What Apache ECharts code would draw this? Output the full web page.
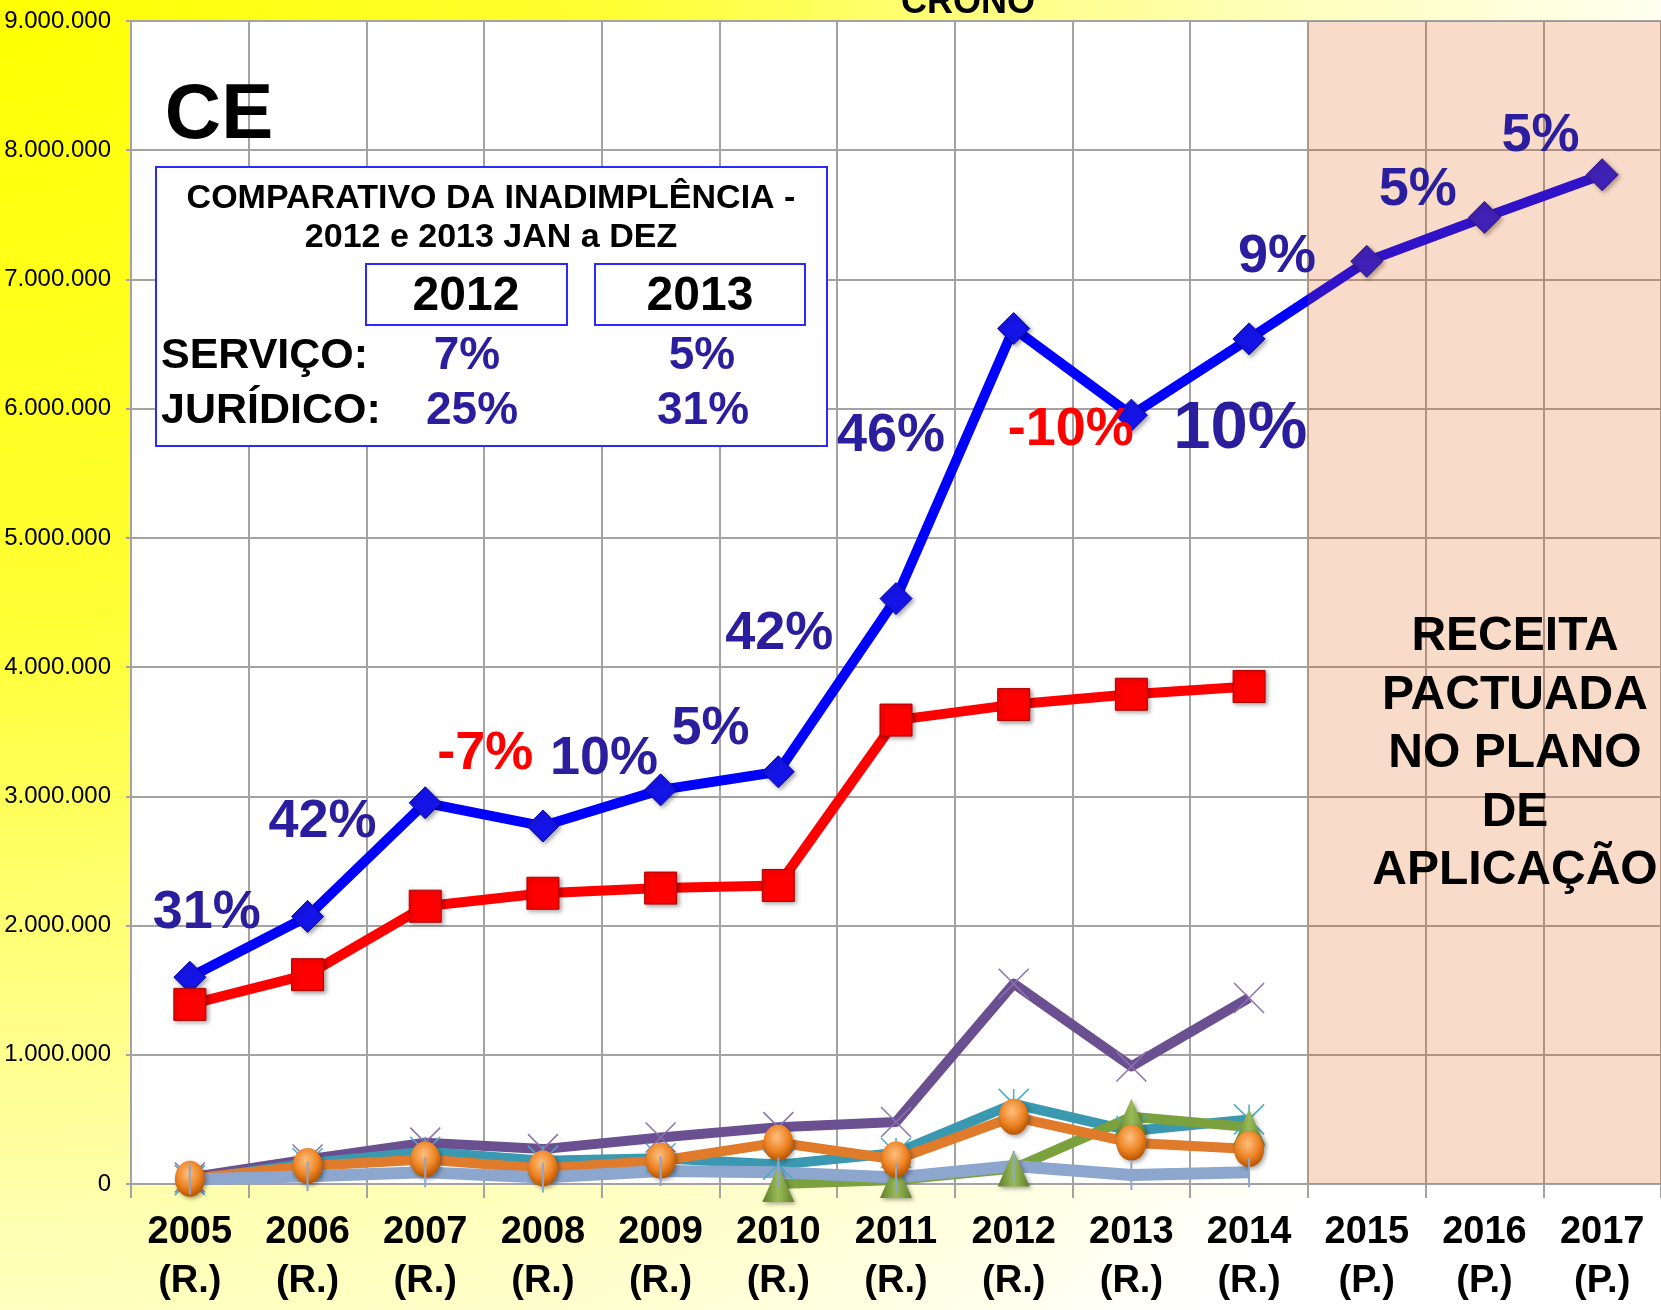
<!DOCTYPE html>
<html>
<head>
<meta charset="utf-8">
<title>CE - Receita</title>
<script src="https://cdn.jsdelivr.net/npm/echarts@6/dist/echarts.min.js"></script>
<style>
    html, body { margin: 0; padding: 0; }
    #chart { width: 1661px; height: 1310px; }
</style>
</head>
<body>
<div id="chart"></div>
<script>
// categorias (ano + R. realizado / P. pactuado)
const years = ['2005', '2006', '2007', '2008', '2009', '2010', '2011', '2012', '2013', '2014', '2015', '2016', '2017'];
const phases = ['R.', 'R.', 'R.', 'R.', 'R.', 'R.', 'R.', 'R.', 'R.', 'R.', 'P.', 'P.', 'P.'];

// séries
const serieAzul = [1600000, 2070000, 2950000, 2770000, 3050000, 3190000, 4530000, 6620000, 5950000, 6540000, 7140000, 7480000, 7810000];
const serieVermelha = [1390000, 1620000, 2150000, 2250000, 2290000, 2310000, 3590000, 3710000, 3790000, 3850000, null, null, null];
const serieRoxa = [50000, 190000, 320000, 270000, 360000, 440000, 480000, 1550000, 910000, 1440000, null, null, null];
const serieTurquesa = [30000, 160000, 250000, 180000, 200000, 150000, 240000, 620000, 410000, 500000, null, null, null];
const serieLaranja = [40000, 140000, 190000, 120000, 180000, 320000, 190000, 520000, 320000, 270000, null, null, null];
const serieVerde = [null, null, null, null, null, 0, 30000, 120000, 520000, 440000, null, null, null];
const serieAzulClara = [35000, 60000, 90000, 50000, 100000, 90000, 50000, 140000, 70000, 90000, null, null, null];

// rótulos de crescimento (ancorados no ponto azul de mesmo índice)
const growthLabels = ['31%', '42%', '-7%', '10%', '5%', '42%', '46%', '-10%', '10%', '9%', '5%', '5%', ''];

// tabela do quadro
const tableYears = ['2012', '2013'];
const servicoPct = ['7%', '5%'];
const juridicoPct = ['25%', '31%'];

const yTicks = { min: 0, max: 9000000, interval: 1000000 };

// posição dos rótulos (px) em relação ao ponto
const labelLayout = [
    [17, -64, 54], [15, -94, 54], [60, -49, 54], [61, -67, 54], [50, -61, 54],
    [1, -138, 54], [-5, -163, 54], [57, 102, 54], [109, 14, 67], [28, -82, 54],
    [51, -71, 54], [56, -81, 54], [0, 0, 54]
];

const FONT = '"Liberation Sans", Arial, Helvetica, sans-serif';
const DARK_BLUE = '#2B1E9E';
const GRID_GRAY = '#A3A3A3';

const chart = echarts.init(document.getElementById('chart'));

const categories = years.map((y, i) => y + '\n(' + phases[i] + ')');

function fmtThousands(v) {
    return String(v).replace(/\B(?=(\d{3})+(?!\d))/g, '.');
}

const markerShadow = {
    shadowBlur: 4,
    shadowOffsetX: 2,
    shadowOffsetY: 2,
    shadowColor: 'rgba(0,0,0,0.35)'
};

function lineSeries(name, data, color, width, symbol, symbolSize, itemStyle) {
    return {
        name: name,
        type: 'line',
        data: data,
        symbol: symbol,
        symbolSize: symbolSize,
        showAllSymbol: true,
        connectNulls: false,
        lineStyle: { color: color, width: width, join: 'round' },
        itemStyle: itemStyle,
        animation: false
    };
}

const option = {
    animation: false,
    graphic: {
        elements: [
            // fundo amarelo degradê
            {
                type: 'rect', z: -100, silent: true,
                shape: { x: 0, y: 0, width: 1661, height: 1310 },
                style: {
                    fill: new echarts.graphic.RadialGradient(0, 0, 1.35, [
                        { offset: 0, color: '#FFFF00' },
                        { offset: 0.35, color: '#FFFF35' },
                        { offset: 0.7, color: '#FFFFB4' },
                        { offset: 1, color: '#FFFFFF' }
                    ])
                }
            },
            // título cortado
            {
                type: 'text', z: 100, x: 968, y: 21,
                style: { text: 'CRONO', font: 'bold 36px ' + FONT, fill: '#000', textAlign: 'center', textVerticalAlign: 'bottom' }
            },
            {
                type: 'text', z: 100, x: 219, y: 116,
                style: { text: 'CE', font: 'bold 78px ' + FONT, fill: '#000', textAlign: 'center', textVerticalAlign: 'middle' }
            },
            // quadro comparativo
            {
                type: 'rect', z: 100,
                shape: { x: 156, y: 167, width: 671, height: 279 },
                style: { fill: '#FFFFFF', stroke: '#2A2AFF', lineWidth: 2 }
            },
            {
                type: 'text', z: 101, x: 491, y: 199,
                style: { text: 'COMPARATIVO DA INADIMPLÊNCIA -', font: 'bold 34px ' + FONT, fill: '#000', textAlign: 'center', textVerticalAlign: 'middle' }
            },
            {
                type: 'text', z: 101, x: 491, y: 238,
                style: { text: '2012 e 2013 JAN a DEZ', font: 'bold 34px ' + FONT, fill: '#000', textAlign: 'center', textVerticalAlign: 'middle' }
            },
            {
                type: 'rect', z: 101,
                shape: { x: 366, y: 264, width: 201, height: 61 },
                style: { fill: '#FFFFFF', stroke: '#2A2AFF', lineWidth: 2 }
            },
            {
                type: 'rect', z: 101,
                shape: { x: 595, y: 264, width: 210, height: 61 },
                style: { fill: '#FFFFFF', stroke: '#2A2AFF', lineWidth: 2 }
            },
            {
                type: 'text', z: 102, x: 466, y: 297,
                style: { text: tableYears[0], font: 'bold 48px ' + FONT, fill: '#000', textAlign: 'center', textVerticalAlign: 'middle' }
            },
            {
                type: 'text', z: 102, x: 700, y: 297,
                style: { text: tableYears[1], font: 'bold 48px ' + FONT, fill: '#000', textAlign: 'center', textVerticalAlign: 'middle' }
            },
            {
                type: 'text', z: 101, x: 161, y: 356,
                style: { text: 'SERVIÇO:', font: 'bold 43px ' + FONT, fill: '#000', textAlign: 'left', textVerticalAlign: 'middle' }
            },
            {
                type: 'text', z: 101, x: 161, y: 411,
                style: { text: 'JURÍDICO:', font: 'bold 43px ' + FONT, fill: '#000', textAlign: 'left', textVerticalAlign: 'middle' }
            },
            {
                type: 'text', z: 101, x: 467, y: 356,
                style: { text: servicoPct[0], font: 'bold 46px ' + FONT, fill: DARK_BLUE, textAlign: 'center', textVerticalAlign: 'middle' }
            },
            {
                type: 'text', z: 101, x: 702, y: 356,
                style: { text: servicoPct[1], font: 'bold 46px ' + FONT, fill: DARK_BLUE, textAlign: 'center', textVerticalAlign: 'middle' }
            },
            {
                type: 'text', z: 101, x: 472, y: 411,
                style: { text: juridicoPct[0], font: 'bold 46px ' + FONT, fill: DARK_BLUE, textAlign: 'center', textVerticalAlign: 'middle' }
            },
            {
                type: 'text', z: 101, x: 703, y: 411,
                style: { text: juridicoPct[1], font: 'bold 46px ' + FONT, fill: DARK_BLUE, textAlign: 'center', textVerticalAlign: 'middle' }
            },
            // texto da área pactuada
            {
                type: 'text', z: 100, x: 1515, y: 754,
                style: {
                    text: 'RECEITA\nPACTUADA\nNO PLANO\nDE\nAPLICAÇÃO',
                    font: 'bold 48px ' + FONT, lineHeight: 58.5, fill: '#000',
                    textAlign: 'center', textVerticalAlign: 'middle'
                }
            }
        ]
    },
    grid: {
        left: 131,
        right: -2,
        top: 21,
        bottom: 126,
        show: true,
        backgroundColor: '#FFFFFF',
        borderWidth: 0
    },
    xAxis: [
        {
            type: 'category',
            data: categories,
            boundaryGap: true,
            axisLine: { show: true, lineStyle: { color: GRID_GRAY, width: 2 } },
            axisTick: { show: true, interval: 0, length: 14, lineStyle: { color: GRID_GRAY, width: 2 } },
            splitLine: { show: true, interval: 0, lineStyle: { color: GRID_GRAY, width: 2 } },
            axisLabel: {
                interval: 0,
                margin: 24,
                color: '#000',
                fontFamily: FONT,
                fontSize: 38,
                fontWeight: 'bold',
                lineHeight: 49
            }
        },
        {
            type: 'value',
            min: 0,
            max: years.length,
            show: false
        }
    ],
    yAxis: {
        type: 'value',
        min: yTicks.min,
        max: yTicks.max,
        interval: yTicks.interval,
        axisLine: { show: true, lineStyle: { color: GRID_GRAY, width: 2 } },
        axisTick: { show: true, length: 5, lineStyle: { color: GRID_GRAY, width: 2 } },
        splitLine: { show: true, lineStyle: { color: GRID_GRAY, width: 2 } },
        axisLabel: {
            margin: 20,
            color: '#000',
            fontFamily: FONT,
            fontSize: 24,
            formatter: fmtThousands
        }
    },
    series: [
        lineSeries('Azul', serieAzul, '#0000FF', 10, 'diamond', 32,
            Object.assign({ color: '#1414E6', borderColor: '#0A0AB0', borderWidth: 1 }, markerShadow)),
        lineSeries('Vermelha', serieVermelha, '#FF0000', 10, 'rect', 32,
            Object.assign({ color: '#FF0000', borderColor: '#B00000', borderWidth: 1 }, markerShadow)),
        lineSeries('Roxa', serieRoxa, '#6B5091', 10, 'path://M0,0L10,10M10,0L0,10', 30,
            { color: 'rgba(0,0,0,0)', borderColor: '#8A72AE', borderWidth: 1.5 }),
        lineSeries('Turquesa', serieTurquesa, '#3A98B0', 10, 'path://M0,0L10,10M10,0L0,10M5,0L5,10', 30,
            { color: 'rgba(0,0,0,0)', borderColor: '#4BACC6', borderWidth: 1.5 }),
        lineSeries('Verde', serieVerde, '#7BA03E', 10, 'triangle', [32, 36],
            Object.assign({
                color: new echarts.graphic.LinearGradient(0, 0, 1, 0, [
                    { offset: 0, color: '#5E7E2A' },
                    { offset: 0.5, color: '#9BBB59' },
                    { offset: 1, color: '#5E7E2A' }
                ])
            }, markerShadow)),
        lineSeries('Laranja', serieLaranja, '#E07B2C', 10, 'circle', [30, 36],
            Object.assign({
                color: new echarts.graphic.RadialGradient(0.45, 0.35, 0.65, [
                    { offset: 0, color: '#FDC080' },
                    { offset: 0.6, color: '#EE8424' },
                    { offset: 1, color: '#B65400' }
                ])
            }, markerShadow)),
        lineSeries('Azul clara', serieAzulClara, '#8CA6CE', 12, 'rect', [2, 30],
            { color: '#8CA6CE' }),
        // área pactuada (sobreposição translúcida)
        {
            name: 'Pactuada',
            type: 'line',
            xAxisIndex: 1,
            data: [],
            silent: true,
            markArea: {
                z: 10,
                silent: true,
                itemStyle: { color: 'rgba(225,85,0,0.21)' },
                data: [[{ xAxis: 10, yAxis: yTicks.min }, { xAxis: years.length, yAxis: yTicks.max }]]
            }
        },
        // rótulos de crescimento
        {
            name: 'Crescimento',
            type: 'scatter',
            z: 20,
            symbolSize: 0,
            silent: true,
            itemStyle: { opacity: 1 },
            data: serieAzul.map((v, i) => ({
                value: v,
                label: {
                    show: growthLabels[i] !== '',
                    formatter: growthLabels[i],
                    position: 'inside',
                    offset: [labelLayout[i][0], labelLayout[i][1]],
                    fontFamily: FONT,
                    fontWeight: 'bold',
                    fontSize: labelLayout[i][2],
                    opacity: 1,
                    textBorderWidth: 0,
                    color: growthLabels[i].charAt(0) === '-' ? '#FF0000' : DARK_BLUE
                }
            }))
        }
    ]
};

chart.setOption(option);
</script>
</body>
</html>
